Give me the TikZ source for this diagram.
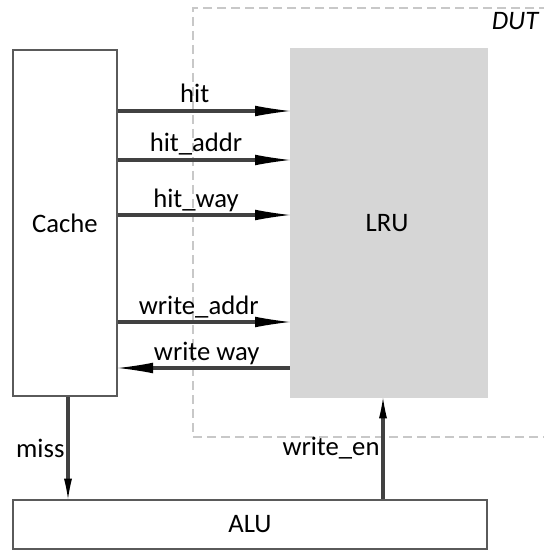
\documentclass[tikz,border=0pt]{standalone}
\usepackage{fontspec}
\setmainfont{Carlito}
\usetikzlibrary{arrows.meta}

\definecolor{boxline}{RGB}{90,90,90}
\definecolor{sigline}{RGB}{65,65,65}
\definecolor{lrufill}{RGB}{214,214,214}
\definecolor{dutline}{RGB}{200,200,200}

\begin{document}
\begin{tikzpicture}[x=0.75pt, y=-0.75pt,
    font=\fontsize{20}{24}\selectfont,
    box/.style={draw=boxline, line width=2pt, inner sep=0pt},
    sig/.style={draw=sigline, line width=2.3pt, -{Latex[length=26pt, width=8pt, line width=0pt, black]}},
    vsig/.style={draw=sigline, line width=2.3pt, -{Latex[length=15pt, width=6pt, line width=0pt, black]}},
    lbl/.style={midway, anchor=base, yshift=6pt, inner sep=0pt}]
    \useasboundingbox (0,0) rectangle (543,552);

    % DUT frame (open to the right)
    \draw[dutline, line width=0.8pt, dash pattern=on 7pt off 3.5pt]
        (548,8) -- (193,8) -- (193,437) -- (548,437);
    \node[font=\fontsize{20}{24}\selectfont\itshape] (dut) at (515,21) {DUT};

    % Blocks
    \node[box, minimum width=78pt, minimum height=259.5pt] (cache) at (65,223) {Cache};
    \node[fill=lrufill, minimum width=148.5pt, minimum height=262.5pt] (lru) at (389,223) {};
    \node (lrutxt) at (387,223) {LRU};
    \node[box, minimum width=355.5pt, minimum height=36.75pt] (alu) at (250,524.5) {ALU};

    % Cache -> LRU
    \draw[sig] (cache.east |- 0,111) -- (lru.west |- 0,111) node[lbl, xshift=-7pt] {hit};
    \draw[sig] (cache.east |- 0,160) -- (lru.west |- 0,160) node[lbl, xshift=-6pt] {hit\_addr};
    \draw[sig] (cache.east |- 0,215) -- (lru.west |- 0,215) node[lbl, xshift=-6pt] {hit\_way};
    \draw[sig] (cache.east |- 0,322) -- (lru.west |- 0,322) node[lbl, xshift=-4pt] {write\_addr};

    % LRU -> Cache
    \draw[sig] (lru.west |- 0,368) -- (cache.east |- 0,368) node[lbl, xshift=2pt] {write way};

    % ALU connections
    \draw[vsig] (cache.south -| 68,0) -- (alu.north -| 68,0) node[midway, left, inner sep=1.5pt] {miss};
    \draw[vsig] (alu.north -| 383,0) -- (lru.south -| 383,0) node[midway, left, inner sep=1.5pt] {write\_en};
\end{tikzpicture}
\end{document}
